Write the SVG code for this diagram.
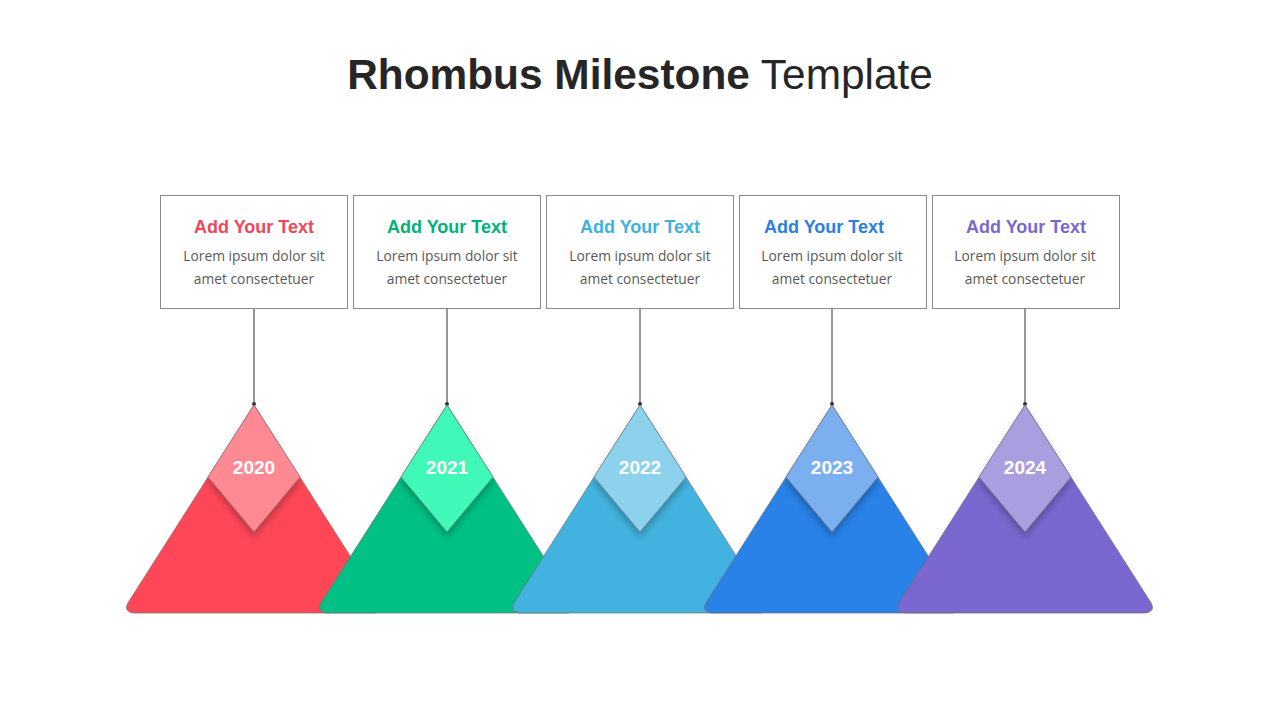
<svg xmlns="http://www.w3.org/2000/svg" width="1280" height="720" viewBox="0 0 1280 720">
<defs>
<style>
.title{font-family:"Liberation Sans",Arial,sans-serif;font-size:42.4px;fill:#262626;}
.box{fill:#ffffff;stroke:#8a8a8a;stroke-width:1;}
.head{font-family:"Liberation Sans",Arial,sans-serif;font-weight:bold;font-size:18px;text-anchor:middle;}
.body{font-family:"Open Sans","Noto Sans",sans-serif;font-size:13.8px;fill:#595959;text-anchor:middle;}
.tri{stroke:#6f6f6f;stroke-opacity:0.7;stroke-width:1;}
.dia{stroke:#6f6f6f;stroke-opacity:0.6;stroke-width:1;filter:url(#sh);}
.year{font-family:"Liberation Sans",Arial,sans-serif;font-weight:bold;font-size:19px;fill:#ffffff;text-anchor:middle;}
.conn line{stroke:#333333;stroke-width:1;}
.conn circle{fill:#333333;}
</style>
<filter id="sh" x="-30%" y="-30%" width="160%" height="170%">
<feDropShadow dx="0" dy="5" stdDeviation="3.5" flood-color="#000000" flood-opacity="0.25"/>
</filter>
<path id="tri" d="M0,405 L125.7,602.3 Q131,611 121,613 L-121,613 Q-131,611 -125.7,602.3 Z"/>
<path id="dia" d="M0,405 L46,477 L0,532 L-46,477 Z"/>
</defs>
<rect width="1280" height="720" fill="#ffffff"/>
<text class="title" x="640" y="89" text-anchor="middle"><tspan font-weight="bold">Rhombus Milestone</tspan> Template</text>

<g id="connectors" class="conn">
<line x1="254" y1="308" x2="254" y2="404"/><circle cx="254" cy="404" r="2"/>
<line x1="447" y1="308" x2="447" y2="404"/><circle cx="447" cy="404" r="2"/>
<line x1="640" y1="308" x2="640" y2="404"/><circle cx="640" cy="404" r="2"/>
<line x1="832" y1="308" x2="832" y2="404"/><circle cx="832" cy="404" r="2"/>
<line x1="1025" y1="308" x2="1025" y2="404"/><circle cx="1025" cy="404" r="2"/>
</g>

<g id="box1">
<rect class="box" x="160.5" y="195.5" width="187" height="113"/>
<text class="head" x="254" y="233" fill="#F0475A">Add Your Text</text>
<text class="body" x="254" y="261">Lorem ipsum dolor sit</text>
<text class="body" x="254" y="284">amet consectetuer</text>
</g>
<g id="box2">
<rect class="box" x="353.5" y="195.5" width="187" height="113"/>
<text class="head" x="447" y="233" fill="#00B27A">Add Your Text</text>
<text class="body" x="447" y="261">Lorem ipsum dolor sit</text>
<text class="body" x="447" y="284">amet consectetuer</text>
</g>
<g id="box3">
<rect class="box" x="546.5" y="195.5" width="187" height="113"/>
<text class="head" x="640" y="233" fill="#3DB2DF">Add Your Text</text>
<text class="body" x="640" y="261">Lorem ipsum dolor sit</text>
<text class="body" x="640" y="284">amet consectetuer</text>
</g>
<g id="box4">
<rect class="box" x="739.5" y="195.5" width="187" height="113"/>
<text class="head" x="824" y="233" fill="#2A7FE2">Add Your Text</text>
<text class="body" x="832" y="261">Lorem ipsum dolor sit</text>
<text class="body" x="832" y="284">amet consectetuer</text>
</g>
<g id="box5">
<rect class="box" x="932.5" y="195.5" width="187" height="113"/>
<text class="head" x="1026" y="233" fill="#7A68D0">Add Your Text</text>
<text class="body" x="1025" y="261">Lorem ipsum dolor sit</text>
<text class="body" x="1025" y="284">amet consectetuer</text>
</g>

<g id="milestone2020" transform="translate(254,0)">
<use href="#tri" class="tri" fill="#FF4757"/>
<use href="#dia" class="dia" fill="#FF8A94"/>
<text class="year" x="0" y="474">2020</text>
</g>
<g id="milestone2021" transform="translate(447,0)">
<use href="#tri" class="tri" fill="#00C183"/>
<use href="#dia" class="dia" fill="#40F8B8"/>
<text class="year" x="0" y="474">2021</text>
</g>
<g id="milestone2022" transform="translate(640,0)">
<use href="#tri" class="tri" fill="#42B3E0"/>
<use href="#dia" class="dia" fill="#8CD2EC"/>
<text class="year" x="0" y="474">2022</text>
</g>
<g id="milestone2023" transform="translate(832,0)">
<use href="#tri" class="tri" fill="#2882E8"/>
<use href="#dia" class="dia" fill="#7CAFF0"/>
<text class="year" x="0" y="474">2023</text>
</g>
<g id="milestone2024" transform="translate(1025,0)">
<use href="#tri" class="tri" fill="#7A68D0"/>
<use href="#dia" class="dia" fill="#A99FE0"/>
<text class="year" x="0" y="474">2024</text>
</g>
</svg>
